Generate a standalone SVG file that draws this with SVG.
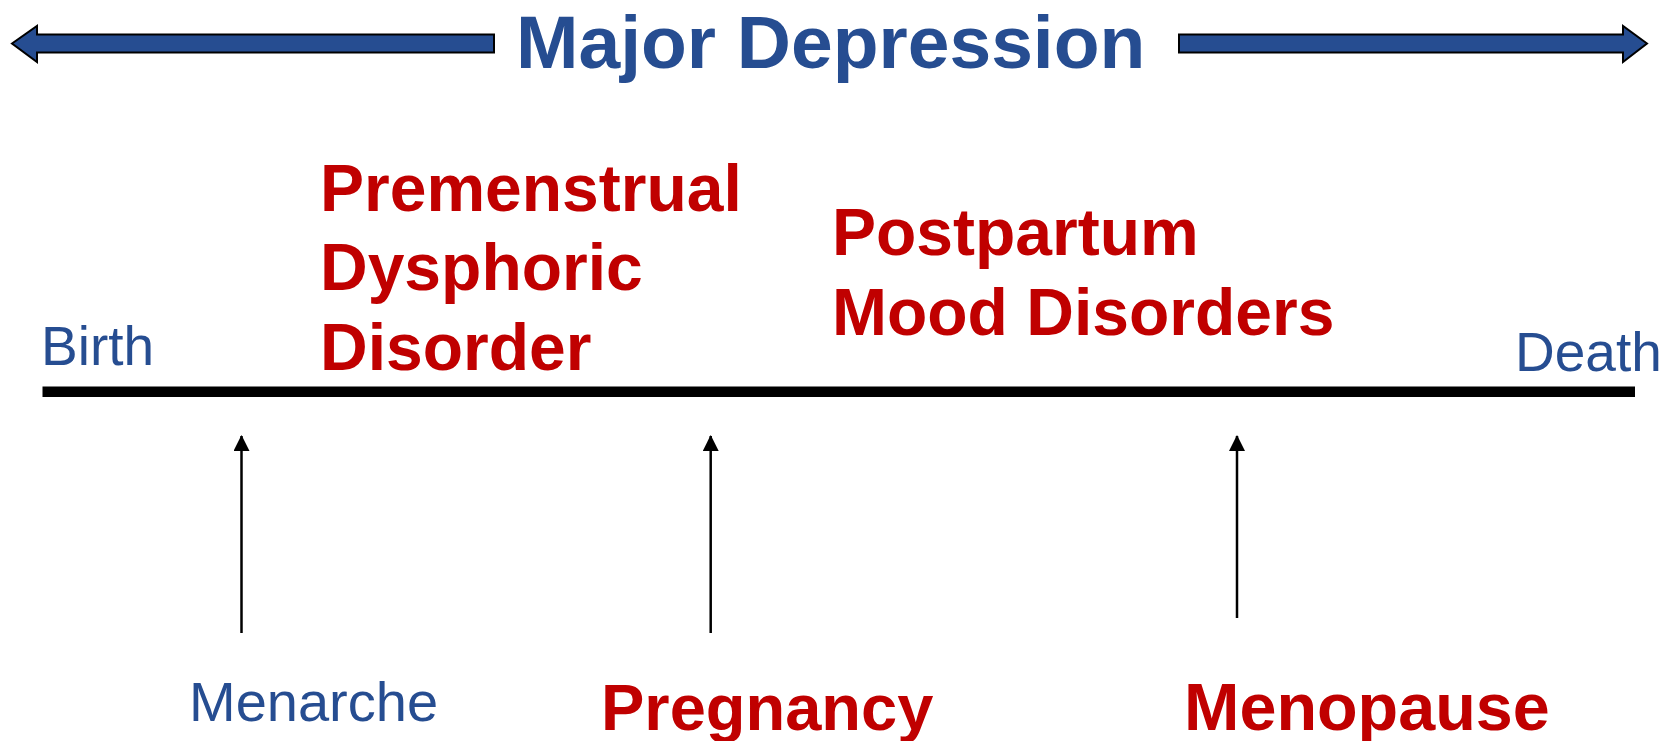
<svg xmlns="http://www.w3.org/2000/svg" width="1677" height="741" viewBox="0 0 1677 741">
<style>
.blue{fill:#264D91}
.red{fill:#C00000}
.t{font-family:"Liberation Sans",Arial,sans-serif}
.b{font-weight:bold}
.big{fill:#264D91;stroke:#000;stroke-width:2;stroke-linejoin:miter}
.stem{stroke:#000;stroke-width:2.5;fill:none}
</style>
<defs>
<marker id="ah" viewBox="0 0 16 16" refX="15" refY="8" markerWidth="16" markerHeight="16" markerUnits="userSpaceOnUse" orient="auto">
<path d="M0,0 L16,8 L0,16 Z" fill="#000"/>
</marker>
</defs>
<rect width="1677" height="741" fill="#fff"/>
<g id="title">
<text class="t b blue" x="516" y="68" font-size="75">Major Depression</text>
</g>
<g id="span-arrows">
<polygon class="big" points="12,43.5 37,26 37,34.5 494,34.5 494,52.5 37,52.5 37,62"/>
<polygon class="big" points="1647,43.5 1623,26 1623,34.5 1179,34.5 1179,52.5 1623,52.5 1623,62"/>
</g>
<g id="timeline">
<line x1="42.5" y1="391.7" x2="1635" y2="391.7" stroke="#000" stroke-width="10.5"/>
</g>
<g id="birth"><text class="t blue" x="41" y="365" font-size="55">Birth</text></g>
<g id="death"><text class="t blue" x="1515" y="371" font-size="55">Death</text></g>
<g id="pmdd">
<text class="t b red" font-size="66"><tspan x="320" y="211">Premenstrual</tspan><tspan x="320" y="290">Dysphoric</tspan><tspan x="320" y="370">Disorder</tspan></text>
</g>
<g id="postpartum">
<text class="t b red" font-size="66"><tspan x="832" y="255">Postpartum</tspan><tspan x="832" y="335">Mood Disorders</tspan></text>
</g>
<g id="connectors">
<line class="stem" x1="241.5" y1="633" x2="241.5" y2="436" marker-end="url(#ah)"/>
<line class="stem" x1="710.7" y1="633" x2="710.7" y2="436" marker-end="url(#ah)"/>
<line class="stem" x1="1237" y1="618" x2="1237" y2="436" marker-end="url(#ah)"/>
</g>
<g id="menarche"><text class="t blue" x="189" y="721" font-size="56">Menarche</text></g>
<g id="pregnancy"><text class="t b red" x="601" y="730" font-size="65">Pregnancy</text></g>
<g id="menopause"><text class="t b red" x="1184" y="730" font-size="66.5">Menopause</text></g>
</svg>
